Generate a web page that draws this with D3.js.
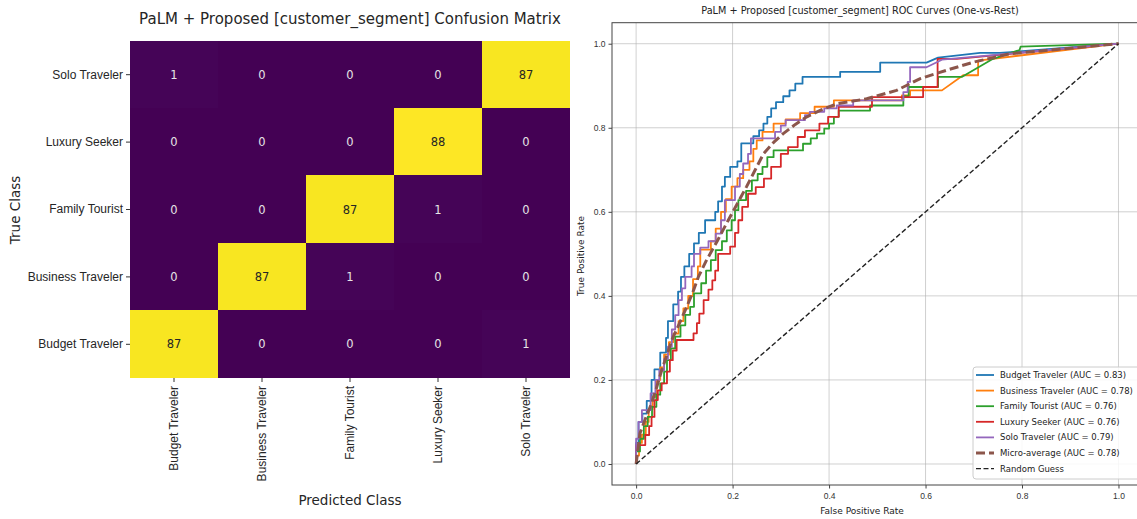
<!DOCTYPE html>
<html>
<head>
<meta charset="utf-8">
<script src="https://cdn.jsdelivr.net/npm/d3@7"></script>
<style>
body { margin: 0; background: #fff; }
svg { display: block; font-family: "DejaVu Sans", sans-serif; }
</style>
</head>
<body>
<div id="chart"></div>
<script>
// clases (columnas = prediccion, filas = clase real, en el orden del grafico)
const clases = ["Budget Traveler", "Business Traveler", "Family Tourist", "Luxury Seeker", "Solo Traveler"];
const filas = ["Solo Traveler", "Luxury Seeker", "Family Tourist", "Business Traveler", "Budget Traveler"];
const matriz = [
    [1, 0, 0, 0, 87],
    [0, 0, 0, 88, 0],
    [0, 0, 87, 1, 0],
    [0, 87, 1, 0, 0],
    [87, 0, 0, 0, 1]
];

const aucs = [0.83, 0.78, 0.76, 0.76, 0.79];
const microAuc = 0.78;
const ticksRoc = [0, 0.2, 0.4, 0.6, 0.8, 1.0];

// curvas ROC: [fpr, tpr]
const rocBudget = [[0,0],[0,0.05],[0.005,0.05],[0.005,0.10],[0.013,0.10],[0.013,0.12],[0.022,0.12],[0.022,0.15],[0.032,0.15],[0.032,0.20],[0.038,0.20],[0.038,0.225],[0.05,0.225],[0.05,0.265],[0.062,0.265],[0.062,0.30],[0.066,0.30],[0.066,0.34],[0.077,0.34],[0.077,0.38],[0.087,0.38],[0.087,0.41],[0.093,0.41],[0.093,0.445],[0.10,0.445],[0.10,0.47],[0.11,0.47],[0.11,0.50],[0.12,0.50],[0.12,0.525],[0.13,0.525],[0.13,0.55],[0.143,0.55],[0.143,0.58],[0.164,0.58],[0.164,0.60],[0.17,0.60],[0.17,0.625],[0.178,0.625],[0.178,0.66],[0.184,0.66],[0.184,0.683],[0.195,0.683],[0.195,0.707],[0.21,0.707],[0.21,0.72],[0.218,0.72],[0.218,0.763],[0.243,0.763],[0.243,0.78],[0.255,0.78],[0.255,0.794],[0.264,0.794],[0.264,0.81],[0.272,0.81],[0.272,0.826],[0.28,0.826],[0.28,0.846],[0.29,0.846],[0.29,0.861],[0.305,0.861],[0.305,0.875],[0.318,0.875],[0.318,0.889],[0.33,0.889],[0.33,0.905],[0.345,0.905],[0.345,0.921],[0.423,0.921],[0.423,0.933],[0.506,0.933],[0.506,0.955],[0.602,0.955],[0.626,0.967],[0.713,0.978],[0.754,0.978],[1,1]];
const rocBusiness = [[0,0],[0,0.02],[0.006,0.02],[0.006,0.05],[0.012,0.05],[0.012,0.07],[0.02,0.07],[0.02,0.10],[0.026,0.10],[0.026,0.13],[0.034,0.13],[0.034,0.16],[0.042,0.16],[0.042,0.20],[0.05,0.20],[0.05,0.23],[0.058,0.23],[0.058,0.26],[0.068,0.26],[0.068,0.29],[0.077,0.29],[0.077,0.31],[0.088,0.31],[0.088,0.34],[0.098,0.34],[0.098,0.37],[0.108,0.37],[0.108,0.40],[0.118,0.40],[0.118,0.44],[0.128,0.44],[0.128,0.47],[0.133,0.47],[0.133,0.51],[0.155,0.51],[0.155,0.53],[0.165,0.53],[0.165,0.56],[0.176,0.56],[0.176,0.60],[0.186,0.60],[0.186,0.63],[0.198,0.63],[0.198,0.66],[0.21,0.66],[0.21,0.68],[0.222,0.68],[0.222,0.70],[0.235,0.70],[0.235,0.72],[0.243,0.72],[0.243,0.75],[0.25,0.75],[0.25,0.77],[0.262,0.77],[0.262,0.79],[0.285,0.79],[0.285,0.81],[0.31,0.81],[0.31,0.82],[0.34,0.82],[0.34,0.835],[0.37,0.835],[0.37,0.85],[0.41,0.85],[0.41,0.865],[0.551,0.865],[0.551,0.877],[0.568,0.877],[0.568,0.889],[0.634,0.889],[0.678,0.925],[0.709,0.925],[0.709,0.96],[1,1]];
const rocFamily = [[0,0],[0,0.03],[0.008,0.03],[0.008,0.06],[0.016,0.06],[0.016,0.09],[0.024,0.09],[0.024,0.112],[0.033,0.112],[0.033,0.136],[0.042,0.136],[0.042,0.165],[0.05,0.165],[0.05,0.192],[0.058,0.192],[0.058,0.22],[0.064,0.22],[0.064,0.247],[0.072,0.247],[0.072,0.275],[0.081,0.275],[0.081,0.303],[0.092,0.303],[0.092,0.33],[0.102,0.33],[0.102,0.355],[0.112,0.355],[0.112,0.374],[0.12,0.374],[0.12,0.406],[0.135,0.406],[0.135,0.43],[0.145,0.43],[0.145,0.46],[0.155,0.46],[0.155,0.485],[0.165,0.485],[0.165,0.509],[0.178,0.509],[0.178,0.53],[0.188,0.53],[0.188,0.556],[0.198,0.556],[0.198,0.58],[0.205,0.58],[0.205,0.604],[0.212,0.604],[0.212,0.628],[0.228,0.628],[0.228,0.65],[0.24,0.65],[0.24,0.675],[0.252,0.675],[0.252,0.69],[0.262,0.69],[0.262,0.707],[0.272,0.707],[0.272,0.73],[0.285,0.73],[0.285,0.746],[0.346,0.746],[0.346,0.762],[0.362,0.762],[0.362,0.775],[0.375,0.775],[0.375,0.786],[0.39,0.786],[0.39,0.798],[0.40,0.798],[0.40,0.81],[0.41,0.81],[0.41,0.826],[0.42,0.826],[0.42,0.841],[0.485,0.841],[0.485,0.853],[0.554,0.853],[0.554,0.875],[0.565,0.875],[0.565,0.897],[0.626,0.897],[0.626,0.921],[0.675,0.921],[0.74,0.964],[0.795,0.985],[0.797,0.993],[1,1]];
const rocLuxury = [[0,0],[0,0.045],[0.019,0.045],[0.019,0.069],[0.027,0.069],[0.027,0.09],[0.032,0.09],[0.032,0.112],[0.038,0.112],[0.038,0.152],[0.045,0.152],[0.045,0.175],[0.053,0.175],[0.053,0.192],[0.064,0.192],[0.064,0.22],[0.07,0.22],[0.07,0.247],[0.076,0.247],[0.076,0.27],[0.084,0.27],[0.084,0.295],[0.119,0.295],[0.119,0.311],[0.126,0.311],[0.126,0.335],[0.131,0.335],[0.131,0.358],[0.14,0.358],[0.14,0.39],[0.15,0.39],[0.15,0.415],[0.158,0.415],[0.158,0.437],[0.164,0.437],[0.164,0.46],[0.17,0.46],[0.17,0.5],[0.195,0.5],[0.195,0.517],[0.205,0.517],[0.205,0.55],[0.212,0.55],[0.212,0.58],[0.22,0.58],[0.22,0.612],[0.232,0.612],[0.232,0.643],[0.248,0.643],[0.248,0.659],[0.265,0.659],[0.265,0.679],[0.28,0.679],[0.28,0.707],[0.3,0.707],[0.3,0.738],[0.315,0.738],[0.315,0.754],[0.335,0.754],[0.335,0.778],[0.35,0.778],[0.35,0.794],[0.38,0.794],[0.38,0.81],[0.398,0.81],[0.398,0.826],[0.42,0.826],[0.42,0.85],[0.489,0.85],[0.489,0.873],[0.595,0.873],[0.595,0.897],[0.625,0.897],[0.625,0.964],[0.665,0.964],[1,1]];
const rocSolo = [[0,0],[0,0.06],[0.005,0.06],[0.005,0.10],[0.012,0.10],[0.012,0.128],[0.03,0.128],[0.03,0.168],[0.04,0.168],[0.04,0.2],[0.048,0.2],[0.048,0.223],[0.058,0.223],[0.058,0.25],[0.066,0.25],[0.066,0.279],[0.074,0.279],[0.074,0.32],[0.081,0.32],[0.081,0.354],[0.088,0.354],[0.088,0.39],[0.095,0.39],[0.095,0.418],[0.102,0.418],[0.102,0.445],[0.115,0.445],[0.115,0.47],[0.12,0.47],[0.12,0.5],[0.133,0.5],[0.133,0.515],[0.15,0.515],[0.15,0.53],[0.165,0.53],[0.165,0.548],[0.176,0.548],[0.176,0.58],[0.184,0.58],[0.184,0.628],[0.205,0.628],[0.205,0.66],[0.215,0.66],[0.215,0.69],[0.222,0.69],[0.222,0.715],[0.232,0.715],[0.232,0.738],[0.238,0.738],[0.238,0.775],[0.288,0.775],[0.288,0.79],[0.3,0.79],[0.3,0.805],[0.31,0.805],[0.31,0.818],[0.35,0.818],[0.35,0.83],[0.36,0.83],[0.36,0.838],[0.39,0.838],[0.39,0.846],[0.416,0.846],[0.416,0.853],[0.45,0.853],[0.45,0.865],[0.554,0.865],[0.554,0.885],[0.563,0.885],[0.563,0.909],[0.568,0.909],[0.568,0.944],[0.602,0.944],[0.634,0.962],[1,1]];
const rocMicro = [[0,0],[0.008,0.073],[0.02,0.11],[0.032,0.144],[0.042,0.18],[0.053,0.223],[0.064,0.26],[0.074,0.295],[0.09,0.335],[0.105,0.374],[0.118,0.41],[0.129,0.445],[0.146,0.485],[0.168,0.53],[0.191,0.58],[0.21,0.62],[0.229,0.66],[0.247,0.70],[0.264,0.738],[0.285,0.765],[0.305,0.786],[0.33,0.808],[0.354,0.826],[0.385,0.843],[0.416,0.857],[0.478,0.869],[0.54,0.889],[0.589,0.917],[0.644,0.937],[0.699,0.956],[0.775,0.976],[1,1]];
const rocRandom = [[0,0],[1,1]];

const colores = ["#1f77b4", "#ff7f0e", "#2ca02c", "#d62728", "#9467bd"];

const svg = d3.select("#chart")
    .append("svg")
    .attr("width", 1137)
    .attr("height", 519);

// ---------- Matriz de confusion ----------
const hx = d3.scaleBand().domain(clases).range([130, 570]);
const hy = d3.scaleBand().domain(filas).range([41, 378]);
const viridis = d3.scaleSequential(d3.interpolateViridis).domain([0, 88]);

const celdas = [];
filas.forEach((f, i) => clases.forEach((c, j) => celdas.push({fila: f, col: c, v: matriz[i][j]})));

const hm = svg.append("g");
hm.selectAll("rect")
    .data(celdas)
    .enter()
    .append("rect")
    .attr("x", d => Math.floor(hx(d.col)))
    .attr("y", d => Math.floor(hy(d.fila)))
    .attr("width", d => Math.ceil(hx(d.col) + hx.bandwidth()) - Math.floor(hx(d.col)))
    .attr("height", d => Math.ceil(hy(d.fila) + hy.bandwidth()) - Math.floor(hy(d.fila)))
    .attr("shape-rendering", "crispEdges")
    .attr("fill", d => viridis(d.v));

hm.selectAll("text.val")
    .data(celdas)
    .enter()
    .append("text")
    .attr("class", "val")
    .attr("x", d => hx(d.col) + hx.bandwidth() / 2)
    .attr("y", d => hy(d.fila) + hy.bandwidth() / 2)
    .attr("text-anchor", "middle")
    .attr("dominant-baseline", "central")
    .style("font-size", "11.5px")
    .style("fill", d => d.v > 44 ? "#262626" : "#e6e6e6")
    .text(d => d.v);

const ejeYh = hm.append("g")
    .attr("transform", "translate(130,0)")
    .call(d3.axisLeft(hy).tickSize(4).tickPadding(3));
ejeYh.select(".domain").remove();
ejeYh.selectAll("text").style("font-size", "12px").style("fill", "#262626").attr("font-family", null);
ejeYh.selectAll("line").attr("stroke", "#333");

const ejeXh = hm.append("g")
    .attr("transform", "translate(0,378)")
    .call(d3.axisBottom(hx).tickSize(4).tickPadding(3));
ejeXh.select(".domain").remove();
ejeXh.selectAll("line").attr("stroke", "#333");
ejeXh.selectAll("text")
    .style("font-size", "12px")
    .style("fill", "#262626")
    .attr("font-family", null)
    .attr("text-anchor", "end")
    .attr("dy", null)
    .attr("dominant-baseline", "central")
    .attr("transform", "rotate(-90)")
    .attr("x", -8)
    .attr("y", 0);

hm.append("text")
    .attr("x", 350)
    .attr("y", 24)
    .attr("text-anchor", "middle")
    .style("font-size", "15px")
    .style("fill", "#262626")
    .text("PaLM + Proposed [customer_segment] Confusion Matrix");

hm.append("text")
    .attr("x", 350)
    .attr("y", 505)
    .attr("text-anchor", "middle")
    .style("font-size", "13.5px")
    .style("fill", "#262626")
    .text("Predicted Class");

hm.append("text")
    .attr("transform", "translate(20,210) rotate(-90)")
    .attr("text-anchor", "middle")
    .style("font-size", "13.5px")
    .style("fill", "#262626")
    .text("True Class");

// ---------- Curvas ROC ----------
const rx = d3.scaleLinear().domain([-0.05, 1.05]).range([612, 1142.6]);
const ry = d3.scaleLinear().domain([-0.05, 1.05]).range([485, 22.7]);

const roc = svg.append("g");

// rejilla
roc.append("g").selectAll("line")
    .data(ticksRoc)
    .enter()
    .append("line")
    .attr("x1", d => rx(d)).attr("x2", d => rx(d))
    .attr("y1", ry(-0.05)).attr("y2", ry(1.05))
    .attr("stroke", "#b0b0b0").attr("stroke-opacity", 0.6);
roc.append("g").selectAll("line")
    .data(ticksRoc)
    .enter()
    .append("line")
    .attr("y1", d => ry(d)).attr("y2", d => ry(d))
    .attr("x1", rx(-0.05)).attr("x2", rx(1.05))
    .attr("stroke", "#b0b0b0").attr("stroke-opacity", 0.6);

const linea = d3.line().x(d => rx(d[0])).y(d => ry(d[1]));

const series = [
    {nombre: "Budget Traveler (AUC = " + aucs[0].toFixed(2) + ")", datos: rocBudget, color: colores[0]},
    {nombre: "Business Traveler (AUC = " + aucs[1].toFixed(2) + ")", datos: rocBusiness, color: colores[1]},
    {nombre: "Family Tourist (AUC = " + aucs[2].toFixed(2) + ")", datos: rocFamily, color: colores[2]},
    {nombre: "Luxury Seeker (AUC = " + aucs[3].toFixed(2) + ")", datos: rocLuxury, color: colores[3]},
    {nombre: "Solo Traveler (AUC = " + aucs[4].toFixed(2) + ")", datos: rocSolo, color: colores[4]},
    {nombre: "Micro-average (AUC = " + microAuc.toFixed(2) + ")", datos: rocMicro, color: "#8c564b", ancho: 3, guion: "9,4"},
    {nombre: "Random Guess", datos: rocRandom, color: "#222", ancho: 1.4, guion: "5,2.5"}
];

roc.append("g").selectAll("path")
    .data(series)
    .enter()
    .append("path")
    .attr("d", d => linea(d.datos))
    .attr("fill", "none")
    .attr("stroke", d => d.color)
    .attr("stroke-width", d => d.ancho || 1.8)
    .attr("stroke-dasharray", d => d.guion || null)
    .attr("stroke-linejoin", "round");

// marco
roc.append("rect")
    .attr("x", rx(-0.05)).attr("y", ry(1.05))
    .attr("width", rx(1.05) - rx(-0.05))
    .attr("height", ry(-0.05) - ry(1.05))
    .attr("fill", "none")
    .attr("stroke", "#444")
    .attr("stroke-width", 1);

const ejeXr = roc.append("g")
    .attr("transform", "translate(0," + ry(-0.05) + ")")
    .call(d3.axisBottom(rx).tickValues(ticksRoc).tickFormat(d3.format(".1f")).tickSize(3.5).tickPadding(4));
ejeXr.select(".domain").remove();
const ejeYr = roc.append("g")
    .attr("transform", "translate(" + rx(-0.05) + ",0)")
    .call(d3.axisLeft(ry).tickValues(ticksRoc).tickFormat(d3.format(".1f")).tickSize(3.5).tickPadding(3));
ejeYr.select(".domain").remove();
[ejeXr, ejeYr].forEach(e => {
    e.selectAll("text").style("font-size", "8.5px").style("fill", "#333").attr("font-family", null);
    e.selectAll("line").attr("stroke", "#444");
});

roc.append("text")
    .attr("x", 860)
    .attr("y", 14)
    .attr("text-anchor", "middle")
    .style("font-size", "9.7px")
    .style("fill", "#222")
    .text("PaLM + Proposed [customer_segment] ROC Curves (One-vs-Rest)");

roc.append("text")
    .attr("x", 862)
    .attr("y", 514)
    .attr("text-anchor", "middle")
    .style("font-size", "9px")
    .style("fill", "#222")
    .text("False Positive Rate");

roc.append("text")
    .attr("transform", "translate(584,256) rotate(-90)")
    .attr("text-anchor", "middle")
    .style("font-size", "9px")
    .style("fill", "#222")
    .text("True Positive Rate");

// leyenda
const ley = roc.append("g").attr("transform", "translate(973,367)");
ley.append("rect")
    .attr("width", 200).attr("height", 112)
    .attr("rx", 3)
    .attr("fill", "#fff").attr("fill-opacity", 0.85)
    .attr("stroke", "#ccc");
const item = ley.selectAll("g.item")
    .data(series)
    .enter()
    .append("g")
    .attr("class", "item")
    .attr("transform", (d, i) => "translate(0," + (8 + i * 15.6) + ")");
item.append("line")
    .attr("x1", 3).attr("x2", 21)
    .attr("stroke", d => d.color)
    .attr("stroke-width", d => d.ancho || 1.8)
    .attr("stroke-dasharray", d => d.guion || null);
item.append("text")
    .attr("x", 27)
    .attr("dominant-baseline", "central")
    .style("font-size", "8.5px")
    .style("fill", "#222")
    .text(d => d.nombre);
</script>
</body>
</html>
